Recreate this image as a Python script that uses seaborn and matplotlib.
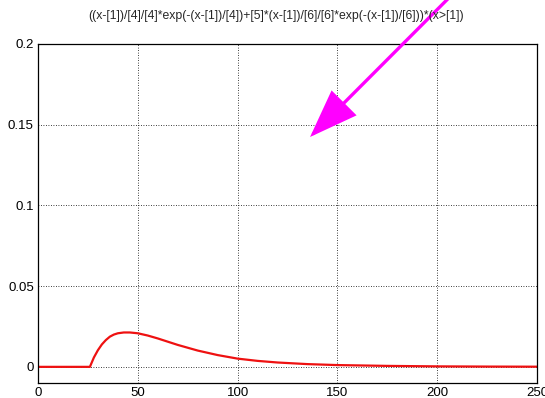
import matplotlib
matplotlib.use("Agg")
import matplotlib.pyplot as plt
import seaborn as sns
import pandas as pd
from matplotlib.ticker import MultipleLocator

# values
x_vals = [0, 10, 20, 26, 28, 30, 32, 34, 36, 38, 40, 43, 46, 50, 55, 60, 65, 70,
          80, 90, 100, 110, 120, 135, 150, 175, 200, 225, 250]
y_vals = [0.0, 0.0, 0.0, 0.0, 0.0058, 0.0103, 0.0139, 0.0166, 0.0187, 0.0200,
          0.0208, 0.0213, 0.0213, 0.0208, 0.0194, 0.0176, 0.0156, 0.0136,
          0.0101, 0.0073, 0.0051, 0.0037, 0.0027, 0.0017, 0.0011, 0.0006,
          0.0003, 0.00017, 0.0001]
title = "((x-[1])/[4]/[4]*exp(-(x-[1])/[4])+[5]*(x-[1])/[6]/[6]*exp(-(x-[1])/[6]))*(x>[1])"
x_ticks = [0, 50, 100, 150, 200, 250]
y_ticks = [0, 0.05, 0.1, 0.15, 0.2]
y_tick_labels = ["0", "0.05", "0.1", "0.15", "0.2"]

sns.set_style("white")
plt.rcParams['font.family'] = ['Liberation Sans', 'DejaVu Sans']

fig = plt.figure(figsize=(5.45, 3.98), dpi=100)
ax = fig.add_axes([38/545, 1-383/398, (537-38)/545, (383-44)/398])

df = pd.DataFrame({"x": x_vals, "y": y_vals})
sns.lineplot(data=df, x="x", y="y", ax=ax, color="#ee1111", linewidth=1.6)

ax.set_xlim(0, 250)
ax.set_ylim(-0.01, 0.2)
ax.set_xticks(x_ticks)
ax.set_xticklabels([str(v) for v in x_ticks])
ax.set_yticks(y_ticks)
ax.set_yticklabels(y_tick_labels)
ax.xaxis.set_minor_locator(MultipleLocator(10))
ax.yaxis.set_minor_locator(MultipleLocator(0.01))
ax.tick_params(which="both", direction="in", top=False, right=False,
               labelsize=9.5, colors="black", width=0.8)
ax.tick_params(which="major", length=8, pad=3)
ax.tick_params(which="minor", length=4.5)
ax.set_xlabel("")
ax.set_ylabel("")
ax.grid(True, which="major", linestyle=(0, (1, 2)), color="black", linewidth=0.6)
for s in ax.spines.values():
    s.set_color("black")
    s.set_linewidth(0.9)

fig.text(276/545, 1-16/398, title, ha="center", va="center", fontsize=8.8)

ax.annotate("", xy=(136.3, 0.1424), xytext=(207, 0.2300),
            xycoords="data", textcoords="data", annotation_clip=False,
            arrowprops=dict(arrowstyle="-|>,head_length=3.0,head_width=1.1",
                            color="#ff00ff", lw=2.4, shrinkA=0, shrinkB=0,
                            joinstyle="miter"),
            clip_on=False)

fig.savefig("out.png", dpi=100)
